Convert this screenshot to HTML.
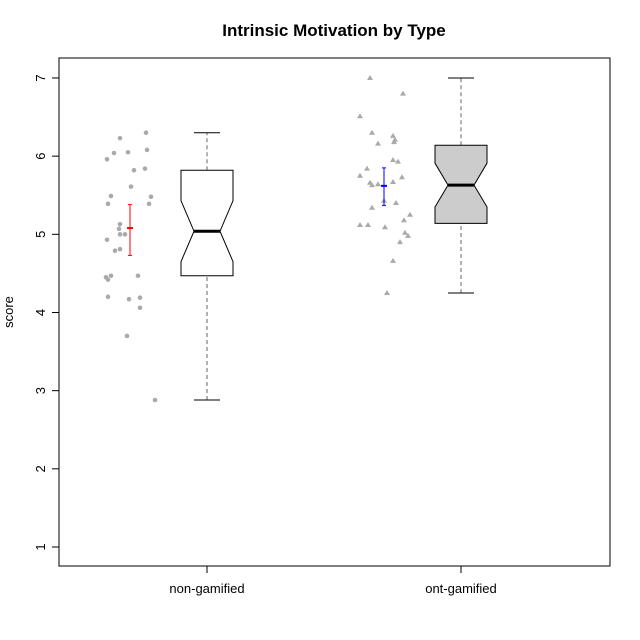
<!DOCTYPE html>
<html><head><meta charset="utf-8"><style>body{margin:0;background:#fff}svg{display:block;font-family:"Liberation Sans",Arial,sans-serif}</style></head>
<body>
<svg id="c" width="640" height="640"></svg>
<script>
const categories=["non-gamified","ont-gamified"];
const pts1=[6.23,6.30,6.04,6.05,5.96,6.08,5.82,5.84,5.61,5.49,5.48,5.39,5.39,5.13,5.07,5.00,5.00,4.93,4.79,4.81,4.45,4.42,4.47,4.47,4.20,4.17,4.19,4.06,3.70,2.88];
const jit1=[120,146,114,128,107,147,134,145,131,111,151,108,149,120,119,120,125,107,115,120,106,108,111,138,108,129,140,140,127,155].map(x=>(x-207)/254);
const pts2=[7.0,6.80,6.51,6.30,6.26,6.21,6.18,6.16,5.95,5.93,5.84,5.75,5.73,5.67,5.66,5.63,5.64,5.43,5.40,5.34,5.25,5.18,5.12,5.12,5.09,5.02,4.98,4.90,4.66,4.25];
const jit2=[370,403,360,372,393,395,394,378,393,398,367,360,402,393,370,372,378,384,396,372,410,404,368,360,385,405,408,400,393,387].map(x=>(x-461)/254);
const boxStats=[[2.88,4.47,5.04,5.82,6.30,4.65,5.43],[4.25,5.14,5.63,6.14,7.0,5.35,5.91]]; // min,q1,med,q3,max,notchLo,notchHi
const means=[[5.08,4.73,5.38],[5.62,5.37,5.85]];
const yTicks=[1,2,3,4,5,6,7];
const svg=document.getElementById('c');const NS='http://www.w3.org/2000/svg';
const Y=v=>547-(v-1)*78.17;const X=i=>207+i*254;
function mk(t,a,p,name){const e=document.createElementNS(NS,t);for(const k in a)e.setAttribute(k,a[k]);


(p||svg).appendChild(e);return e;}
mk('rect',{x:59,y:58,width:551,height:508,fill:'none',stroke:'#000'},null,'plot-frame');
const t=mk('text',{x:334,y:36,'text-anchor':'middle','font-size':17,'font-weight':'bold'},null,'chart-title');t.textContent='Intrinsic Motivation by Type';
const yl=mk('text',{x:0,y:0,transform:'translate(13,312) rotate(-90)','text-anchor':'middle','font-size':13},null,'y-axis-title');yl.textContent='score';
mk('line',{x1:59,x2:59,y1:Y(1),y2:Y(7),stroke:'#000'},null,'y-axis-line');
yTicks.forEach(v=>{mk('line',{x1:52,x2:59,y1:Y(v),y2:Y(v),stroke:'#000'},null,'y-tick');
const s=mk('text',{x:0,y:0,transform:`translate(45,${Y(v)}) rotate(-90)`,'text-anchor':'middle','font-size':13},null,'y-tick-label');s.textContent=v;});
mk('line',{x1:X(0),x2:X(1),y1:566,y2:566,stroke:'#000'},null,'x-axis-line');
categories.forEach((c,i)=>{mk('line',{x1:X(i),x2:X(i),y1:566,y2:573,stroke:'#000'},null,'x-tick');
const s=mk('text',{x:X(i),y:593,'text-anchor':'middle','font-size':13},null,'x-tick-label');s.textContent=c;});
boxStats.forEach((b,i)=>{const cx=X(i),w=26,n=13,g=mk('g',{},null,'box-'+categories[i]);
mk('line',{x1:cx,x2:cx,y1:Y(b[0]),y2:Y(b[1]),stroke:'#666','stroke-dasharray':'4,3'},g,'lower-whisker');
mk('line',{x1:cx,x2:cx,y1:Y(b[3]),y2:Y(b[4]),stroke:'#666','stroke-dasharray':'4,3'},g,'upper-whisker');
mk('line',{x1:cx-13,x2:cx+13,y1:Y(b[0]),y2:Y(b[0]),stroke:'#000'},g,'lower-cap');
mk('line',{x1:cx-13,x2:cx+13,y1:Y(b[4]),y2:Y(b[4]),stroke:'#000'},g,'upper-cap');
const p=[[cx-w,Y(b[1])],[cx+w,Y(b[1])],[cx+w,Y(b[5])],[cx+n,Y(b[2])],[cx+w,Y(b[6])],[cx+w,Y(b[3])],[cx-w,Y(b[3])],[cx-w,Y(b[6])],[cx-n,Y(b[2])],[cx-w,Y(b[5])]];
mk('polygon',{points:p.map(q=>q.join(',')).join(' '),fill:i?'#cccccc':'#fff',stroke:'#000'},g,'notched-box');
mk('line',{x1:cx-n,x2:cx+n,y1:Y(b[2]),y2:Y(b[2]),stroke:'#000','stroke-width':3},g,'median-line');});
[[pts1,jit1],[pts2,jit2]].forEach(([p,j],i)=>{p.forEach((v,k)=>{const x=X(i)+j[k]*254,y=Y(v);
if(i===0)mk('circle',{cx:x,cy:y,r:2.3,fill:'#aaa'},null,'point-non-gamified');
else mk('polygon',{points:`${x},${y-3} ${x-3},${y+2} ${x+3},${y+2}`,fill:'#aaa'},null,'point-ont-gamified');});});
means.forEach((m,i)=>{const cx=X(i)-77,col=i?'#0000ff':'#ff0000';
mk('line',{x1:cx,x2:cx,y1:Y(m[1]),y2:Y(m[2]),stroke:col},null,'mean-error-bar');
mk('line',{x1:cx-2,x2:cx+2,y1:Y(m[1]),y2:Y(m[1]),stroke:col},null,'error-cap');
mk('line',{x1:cx-2,x2:cx+2,y1:Y(m[2]),y2:Y(m[2]),stroke:col},null,'error-cap');
mk('line',{x1:cx-3,x2:cx+3,y1:Y(m[0]),y2:Y(m[0]),stroke:col,'stroke-width':2},null,'mean-mark');});
</script>
</body></html>
